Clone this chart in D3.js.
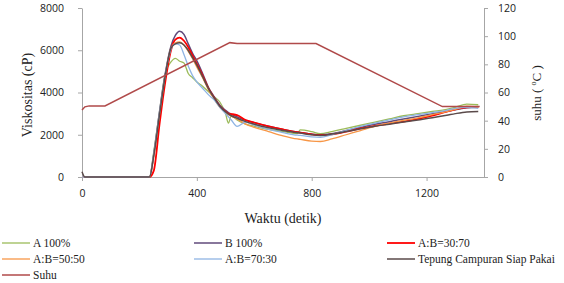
<!DOCTYPE html>
<html>
<head>
<meta charset="utf-8">
<script src="https://cdn.jsdelivr.net/npm/d3@7"></script>
<style>
body{margin:0;background:#fff;}
svg{display:block;}
</style>
</head>
<body>
<div id="chart"></div>
<script>
var w=564;
var h=283;
var serif="'Liberation Serif','Times New Roman',Times,serif";
var sans="'Open Sans',sans-serif";

// waktu (detik) untuk kurva viskositas
var waktu=[0,10,235,250,270,290,310,325,340,355,370,385,400,420,440,460,480,500,510,520,540,570,600,650,700,750,760,800,830,870,920,970,1020,1070,1120,1170,1220,1270,1300,1340,1380];

var a100=[0,0,0,1200,3100,4900,5450,5620,5480,5400,4900,4700,4500,4300,4050,3800,3550,3000,2550,2900,2700,2500,2400,2250,2150,2050,2230,2150,2050,2150,2300,2450,2600,2750,2900,3000,3100,3200,3300,3450,3420];
var b100=[0,0,0,1100,3100,4900,6200,6700,6900,6750,6300,5850,5500,4900,4250,3800,3400,3150,3050,2980,2850,2680,2570,2400,2250,2130,2110,2030,2000,2050,2200,2350,2500,2620,2750,2870,3000,3100,3180,3280,3300];
var ab3070=[0,0,0,300,2500,4500,6000,6500,6600,6450,6150,5750,5350,4800,4200,3750,3350,3100,3000,2980,2930,2700,2580,2400,2250,2120,2100,2020,1980,2020,2150,2300,2420,2530,2620,2750,2900,3100,3200,3300,3320];
var ab5050=[0,0,0,1000,2950,4800,6100,6350,6400,6250,5950,5600,5200,4700,4150,3700,3300,3050,2950,2880,2750,2500,2350,2150,1950,1800,1780,1700,1680,1800,2000,2200,2400,2550,2680,2800,2950,3100,3200,3350,3300];
var ab7030=[0,0,0,1100,3050,4850,6050,6300,6250,5800,5250,4800,4500,4200,3900,3650,3300,3000,2850,2700,2400,2600,2450,2250,2100,1980,1970,1900,1880,2000,2200,2400,2550,2700,2850,2950,3050,3150,3250,3300,3250];
var tepung=[250,0,0,1000,2950,4800,6100,6300,6350,6250,6000,5650,5300,4750,4200,3750,3350,3080,2980,2900,2780,2620,2500,2330,2200,2100,2080,2000,1970,2030,2150,2280,2400,2500,2600,2700,2800,2920,3000,3080,3100];

// suhu (oC), sumbu kanan
var waktuSuhu=[0,10,25,80,515,540,815,1255,1385];
var suhu=[47.5,49.8,50.5,50.5,95.4,94.8,94.8,50,50];

var xTicks=[0,400,800,1200];
var yTicks=[0,2000,4000,6000,8000];
var y2Ticks=[0,20,40,60,80,100,120];

var seri=[
  {name:"A 100%",vals:a100,color:"#9bbb59",w:1.3},
  {name:"B 100%",vals:b100,color:"#604a7b",w:1.5},
  {name:"A:B=30:70",vals:ab3070,color:"#ff0000",w:1.8},
  {name:"A:B=50:50",vals:ab5050,color:"#f79646",w:1.3},
  {name:"A:B=70:30",vals:ab7030,color:"#8eb4e3",w:1.3},
  {name:"Tepung Campuran Siap Pakai",vals:tepung,color:"#5a4a4a",w:1.5}
];

var svg=d3.select("#chart").append("svg")
          .attr("width",w)
          .attr("height",h);

var x=d3.scaleLinear().domain([0,1400]).range([82,484]);
var y=d3.scaleLinear().domain([0,8000]).range([177,8]);
var y2=d3.scaleLinear().domain([0,120]).range([177,8]);

function styleAxis(g){
  g.attr("font-family",sans).attr("font-size",10.5);
  g.select(".domain").attr("stroke","#a6a6a6");
  g.selectAll(".tick line").attr("stroke","#a6a6a6");
  g.selectAll(".tick text").attr("fill","#222");
}

svg.append("g")
   .attr("transform","translate(0,177)")
   .call(d3.axisBottom(x).tickValues(xTicks).tickFormat(d3.format("d")).tickSize(4).tickSizeOuter(0).tickPadding(9))
   .call(styleAxis);

svg.append("g")
   .attr("transform","translate(82,0)")
   .call(d3.axisLeft(y).tickValues(yTicks).tickFormat(d3.format("d")).tickSize(4).tickSizeOuter(0).tickPadding(14))
   .call(styleAxis);

svg.append("g")
   .attr("transform","translate(484,0)")
   .call(d3.axisRight(y2).tickValues(y2Ticks).tickFormat(d3.format("d")).tickSize(4).tickSizeOuter(0).tickPadding(10))
   .call(styleAxis);

var line=d3.line()
   .x(function(d,i){return x(waktu[i]);})
   .y(function(d){return y(d);})
   .curve(d3.curveMonotoneX);

svg.append("g").selectAll("path")
   .data(seri)
   .enter().append("path")
   .attr("d",function(d){return line(d.vals);})
   .attr("fill","none")
   .attr("stroke",function(d){return d.color;})
   .attr("stroke-width",function(d){return d.w;});

var lineSuhu=d3.line()
   .x(function(d,i){return x(waktuSuhu[i]);})
   .y(function(d){return y2(d);});

svg.append("path")
   .attr("d",lineSuhu(suhu))
   .attr("fill","none")
   .attr("stroke","#b04a4a")
   .attr("stroke-width",1.5);

// judul sumbu
svg.append("text")
   .attr("font-family",serif).attr("font-size",14).attr("fill","#222")
   .attr("x",283).attr("y",223).attr("text-anchor","middle")
   .text("Waktu (detik)");

svg.append("text")
   .attr("font-family",serif).attr("font-size",14).attr("fill","#222")
   .attr("transform","translate(32,95) rotate(-90)")
   .attr("text-anchor","middle")
   .text("Viskositas (cP)");

var t2=svg.append("text")
   .attr("font-family",serif).attr("font-size",13).attr("fill","#222")
   .attr("transform","translate(541,93) rotate(-90)")
   .attr("text-anchor","middle");
t2.append("tspan").text("suhu ( ");
t2.append("tspan").attr("font-size","8px").attr("dy","-5").text("o");
t2.append("tspan").attr("dy","5").text("C )");

// legenda
var legData=seri.concat([{name:"Suhu",color:"#b04a4a",w:1.5}]);
var colX=[2,194,387];
var rowY=[243,259,275];

var leg=svg.append("g").selectAll("g")
   .data(legData)
   .enter().append("g")
   .attr("transform",function(d,i){return "translate("+colX[i%3]+","+rowY[Math.floor(i/3)]+")";});

leg.append("line")
   .attr("x1",0).attr("x2",28)
   .attr("stroke",function(d){return d.color;})
   .attr("stroke-width",function(d){return d.w;});

leg.append("text")
   .attr("font-family",serif).attr("font-size",11.5).attr("fill","#222")
   .attr("x",31).attr("dy","0.35em")
   .text(function(d){return d.name;});
</script>
</body>
</html>
